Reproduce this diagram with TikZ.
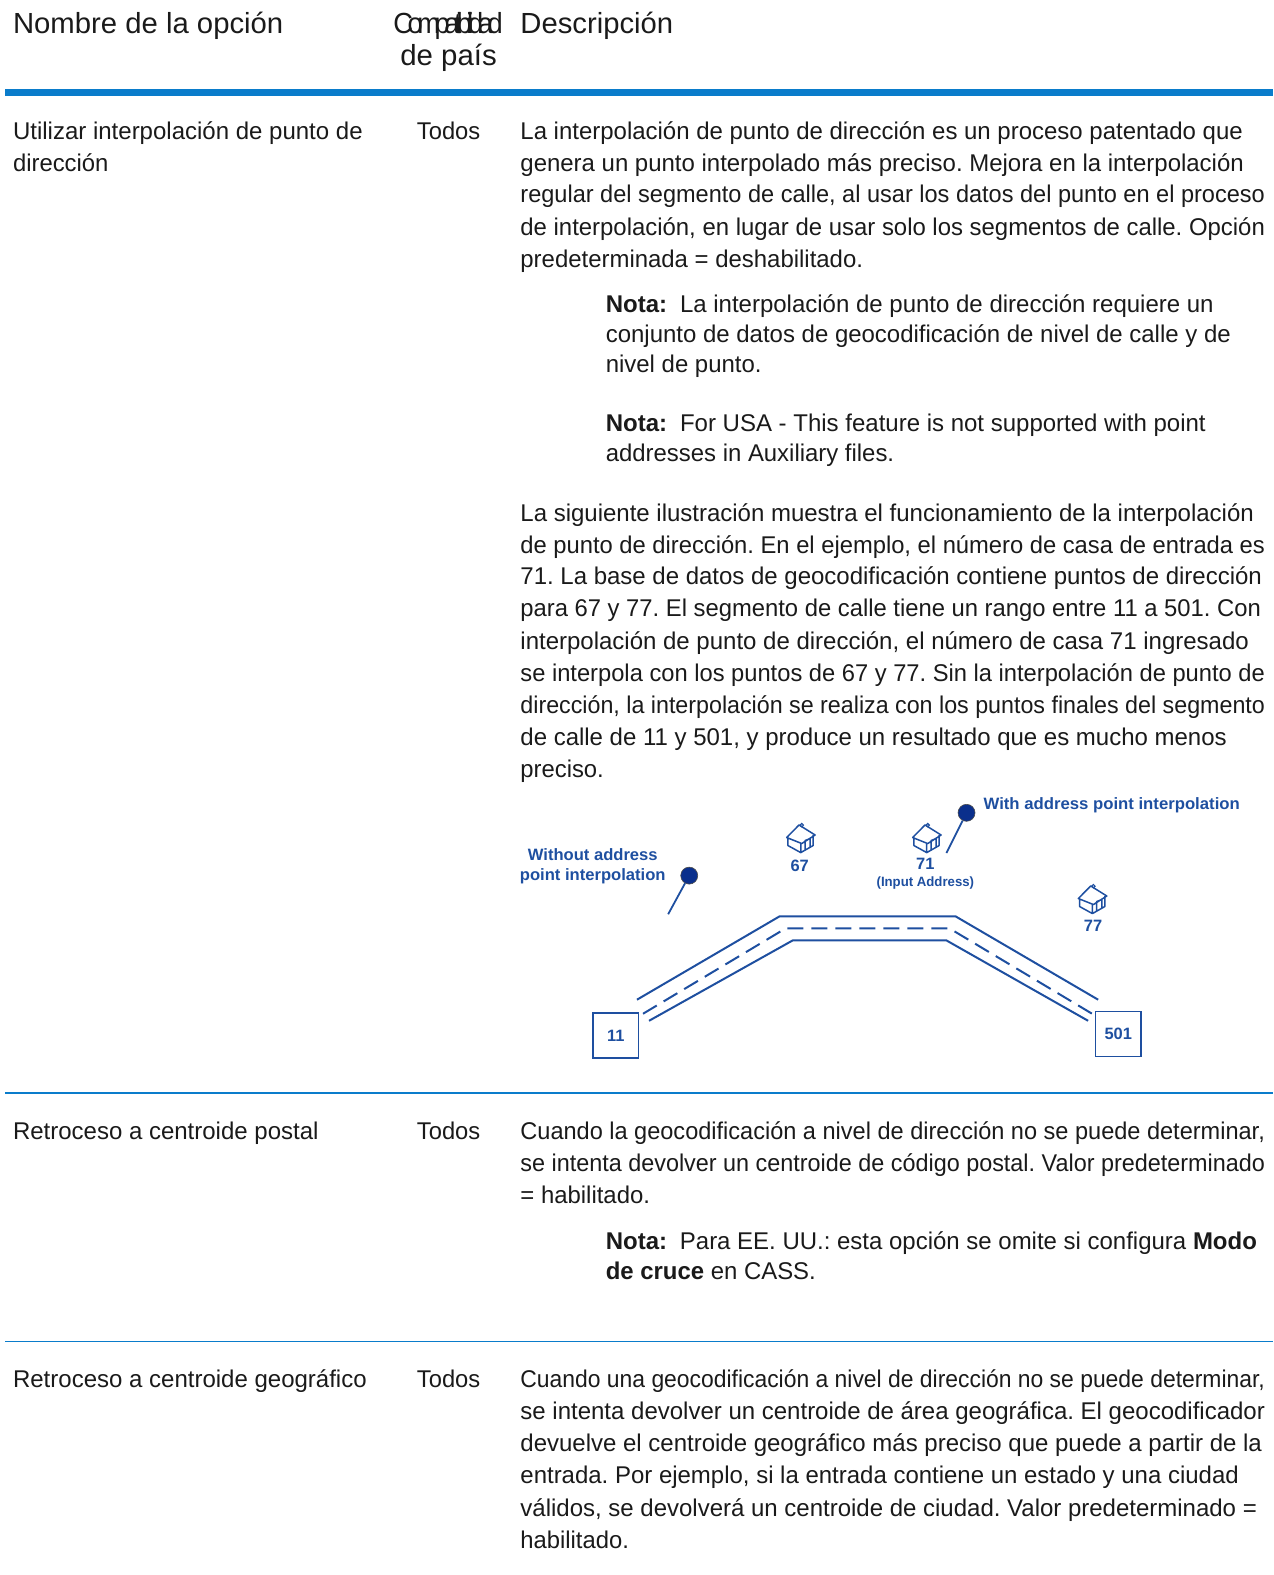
\documentclass[tikz,border=0pt]{standalone}
\usepackage{fontspec}
\setmainfont{Liberation Sans}
\definecolor{rule}{HTML}{0A7CCB}
\definecolor{ink}{HTML}{1A1A1A}
\definecolor{dgm}{HTML}{1E4FA0}
\definecolor{pin}{HTML}{0A2F8C}
\newcommand{\bodysize}{\fontsize{24.3}{30}\selectfont}
\newcommand{\headsize}{\fontsize{29.2}{32}\selectfont}
\newcommand{\fit}[2]{\resizebox{\dimexpr #1bp*10047/10000\relax}{\height}{#2}}
\newcommand{\lab}[5]{\node[txt] (#1) at (#2,#3) {\frenchspacing\fit{\numexpr #4-#2\relax}{#5}};}
\tikzset{
  txt/.style={anchor=base west,inner sep=0pt,outer sep=0pt,text=ink,font=\bodysize},
  head/.style={txt,font=\headsize},
  dtxt/.style={inner sep=0pt,outer sep=0pt,text=dgm,font=\fontsize{16.5}{18}\selectfont\bfseries},
  road/.style={draw=dgm,line width=2bp,line join=miter},
  box/.style={draw=dgm,line width=1.7bp,minimum width=45.5bp,minimum height=45bp,inner sep=0pt,text=dgm,font=\fontsize{16.5}{18}\selectfont\bfseries},
  pinhead/.style={circle,fill=pin,draw=black!70,line width=.6bp,minimum size=17bp,inner sep=0pt},
  house/.pic={
    \draw[dgm,line width=1.5bp,line join=round]
      (0,13.5) -- (12.3,1) -- (28.3,11) -- (15,19.5) -- cycle
      (1.3,14.5) -- (1.3,21.5) -- (14,28.5) -- (26.3,21.5) -- (26.3,11)
      (14,19.5) -- (14,28.5)
      (18.3,25.5) -- (18.3,16.5) -- (23.3,14.5) -- (23.3,23);
    \draw[dgm,line width=1.1bp] (15,1.2) circle (1.7bp);
  }
}
\begin{document}
\begin{tikzpicture}[x=1.0047bp,y=-1.0047bp]
\useasboundingbox (0,0) rectangle (1268.04,1567.63);
% header
\node[head] (h1) at (13,33) {\fit{269}{Nombre de la opción}};
\node[head,anchor=base] (h2) at (446,33) {\fit{109}{\addfontfeatures{LetterSpace=-20}Compatibilidad}};
\node[head,anchor=base] (h2b) at (446.5,65) {\fit{96}{de país}};
\node[head] (h3) at (518,33) {\fit{152}{Descripción}};
\fill[rule] (5,89) rectangle (1267,95.5);
% row 1
\lab{a1}{13}{138.5}{361}{Utilizar interpolación de punto de}
\lab{a2}{13}{170.5}{108}{dirección}
\lab{a3}{415}{138.5}{478}{Todos}
\lab{b1}{518}{138.5}{1237}{La interpolación de punto de dirección es un proceso patentado que}
\lab{b2}{518}{170.5}{1238}{genera un punto interpolado más preciso. Mejora en la interpolación}
\lab{b3}{518}{202}{1259}{regular del segmento de calle, al usar los datos del punto en el proceso}
\lab{b4}{518}{234}{1259}{de interpolación, en lugar de usar solo los segmentos de calle. Opción}
\lab{b5}{518}{266}{859}{predeterminada = deshabilitado.}
\lab{n1}{603}{311}{1208}{\textbf{Nota:}\hspace{13pt}La interpolación de punto de dirección requiere un}
\lab{n2}{603}{341}{1225}{conjunto de datos de geocodificación de nivel de calle y de}
\lab{n3}{603}{371}{758}{nivel de punto.}
\lab{n4}{603}{429}{1200}{\textbf{Nota:}\hspace{13pt}For USA - This feature is not supported with point}
\lab{n5}{603}{459}{890}{addresses in Auxiliary files.}
\lab{c1}{518}{519}{1248}{La siguiente ilustración muestra el funcionamiento de la interpolación}
\lab{c2}{518}{551}{1259}{de punto de dirección. En el ejemplo, el número de casa de entrada es}
\lab{c3}{518}{582}{1256}{71. La base de datos de geocodificación contiene puntos de dirección}
\lab{c4}{518}{614}{1255}{para 67 y 77. El segmento de calle tiene un rango entre 11 a 501. Con}
\lab{c5}{518}{646}{1243}{interpolación de punto de dirección, el número de casa 71 ingresado}
\lab{c6}{518}{678}{1259}{se interpola con los puntos de 67 y 77. Sin la interpolación de punto de}
\lab{c7}{518}{710}{1259}{dirección, la interpolación se realiza con los puntos finales del segmento}
\lab{c8}{518}{742}{1221}{de calle de 11 y 501, y produce un resultado que es mucho menos}
\lab{c9}{518}{774}{601}{preciso.}
% diagram
\node[dtxt,anchor=west] (with) at (979,801) {\fit{255}{With address point interpolation}};
\node[dtxt] (without) at (590,851) {\fit{129}{Without address}};
\node[dtxt] (without2) at (590,872) {\fit{145}{point interpolation}};
\node[pinhead] (p1) at (686,871.5) {};
\coordinate (p1e) at (665,910);
\draw[dgm,line width=1.8bp] (p1) -- (p1e);
\node[pinhead] (p2) at (962,809) {};
\coordinate (p2e) at (942,849);
\draw[dgm,line width=1.8bp] (p2) -- (p2e);
\pic at (783,820.1) {house};
\pic at (908.4,820.1) {house};
\pic at (1073.3,880.8) {house};
\node[dtxt] (l67) at (796,862) {67};
\node[dtxt] (l71) at (921,860) {71};
\node[dtxt,font=\fontsize{13.5}{15}\selectfont\bfseries] (l71b) at (921,879) {\fit{97}{(Input Address)}};
\node[dtxt] (l77) at (1088,921.5) {77};
\node[box] (s11) at (613,1030.5) {11};
\node[box] (s501) at (1113,1029) {501};
\coordinate (ra) at (634,995); \coordinate (rb) at (776,912); \coordinate (rc) at (951,912); \coordinate (rd) at (1093,995);
\coordinate (da) at (640,1009); \coordinate (db) at (782,924); \coordinate (dc) at (945,924); \coordinate (dd) at (1087,1009);
\coordinate (ea) at (646,1016); \coordinate (eb) at (789,936); \coordinate (ec) at (942,936); \coordinate (ed) at (1083,1016);
\draw[road] (ra) -- (rb) -- (rc) -- (rd);
\draw[road,dash pattern=on 16bp off 8bp] (da) -- (db) -- (dc) -- (dd);
\draw[road] (ea) -- (eb) -- (ec) -- (ed);
\draw[rule,line width=1.6bp] (5,1088) -- (1267,1088);
% row 2
\lab{d1}{13}{1134}{317}{Retroceso a centroide postal}
\lab{d2}{415}{1134}{478}{Todos}
\lab{e1}{518}{1134}{1259}{Cuando la geocodificación a nivel de dirección no se puede determinar,}
\lab{e2}{518}{1166}{1259}{se intenta devolver un centroide de código postal. Valor predeterminado}
\lab{e3}{518}{1198}{647}{= habilitado.}
\lab{e4}{603}{1244}{1251}{\textbf{Nota:}\hspace{13pt}Para EE. UU.: esta opción se omite si configura \textbf{Modo}}
\lab{e5}{603}{1273.5}{812}{\textbf{de cruce} en CASS.}
\draw[rule,line width=1.6bp] (5,1335.2) -- (1267,1335.2);
% row 3
\lab{f1}{13}{1381}{365}{Retroceso a centroide geográfico}
\lab{f2}{415}{1381}{478}{Todos}
\lab{g1}{518}{1381}{1259}{Cuando una geocodificación a nivel de dirección no se puede determinar,}
\lab{g2}{518}{1413}{1259}{se intenta devolver un centroide de área geográfica. El geocodificador}
\lab{g3}{518}{1445}{1256}{devuelve el centroide geográfico más preciso que puede a partir de la}
\lab{g4}{518}{1477}{1233}{entrada. Por ejemplo, si la entrada contiene un estado y una ciudad}
\lab{g5}{518}{1509}{1251}{válidos, se devolverá un centroide de ciudad. Valor predeterminado =}
\lab{g6}{518}{1541}{626}{habilitado.}
\end{tikzpicture}
\end{document}
